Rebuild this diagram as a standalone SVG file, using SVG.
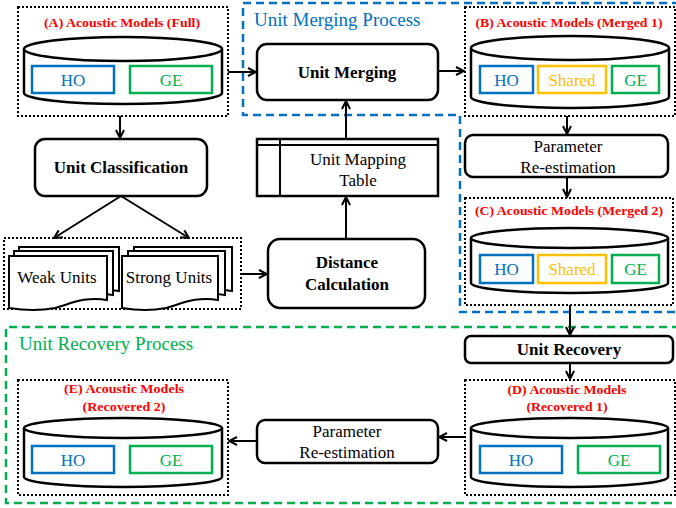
<svg xmlns="http://www.w3.org/2000/svg" width="676" height="508" viewBox="0 0 676 508" font-family="'Liberation Serif','Times New Roman',serif">
<defs>
<marker id="ah" viewBox="0 0 10 10" refX="9" refY="5" markerWidth="10" markerHeight="10" markerUnits="userSpaceOnUse" orient="auto">
<path d="M1,1 L9,5 L1,9" fill="none" stroke="#000" stroke-width="2"/>
</marker>
<style>
text{font-family:"Liberation Serif","Times New Roman",serif;}
.dot{fill:none;stroke:#000;stroke-width:2;stroke-dasharray:2 2;}
.blue{fill:none;stroke:#0070C0;stroke-width:2.5;stroke-dasharray:8 5;}
.green{fill:none;stroke:#00B050;stroke-width:2.5;stroke-dasharray:8 5;}
.cyl{fill:#fff;stroke:#000;stroke-width:2.5;}
.box{fill:#fff;stroke:#000;stroke-width:2.5;}
.ho{fill:#fff;stroke:#0070C0;stroke-width:2.5;}
.ge{fill:#fff;stroke:#00B050;stroke-width:2.5;}
.sh{fill:#fff;stroke:#FFC000;stroke-width:2.5;}
.tho{fill:#0070C0;font-size:17px;text-anchor:middle;}
.tge{fill:#00B050;font-size:17px;text-anchor:middle;}
.tsh{fill:#FFC000;font-size:17px;text-anchor:middle;}
.red{fill:#FF0000;font-size:13px;font-weight:bold;text-anchor:middle;}
.bold{fill:#000;font-size:17px;font-weight:bold;text-anchor:middle;}
.reg{fill:#000;font-size:17px;text-anchor:middle;}
.line{fill:none;stroke:#000;stroke-width:2;}
.doc{fill:#fff;stroke:#000;stroke-width:2;}
</style>
</defs>
<rect width="676" height="508" fill="#fff"/>

<g id="merging-process">
<path class="blue" d="M680,3 H243 V115 H460 V312 H680"/>
<text x="254" y="26" fill="#0070C0" style="font-size:19px">Unit Merging Process</text>
</g>
<g id="recovery-process">
<path class="green" d="M680,327 H6 V503 H680"/>
<text x="19" y="350" fill="#00B050" style="font-size:19px">Unit Recovery Process</text>
</g>

<g id="modelA">
<rect class="dot" x="18" y="7" width="210" height="109"/>
<text class="red" x="122" y="27" textLength="156" lengthAdjust="spacingAndGlyphs">(A) Acoustic Models (Full)</text>
<path class="cyl" d="M24,49 V93 A99,11 0 0 0 222,93 V49"/>
<ellipse class="cyl" cx="123" cy="49" rx="99" ry="12"/>
<rect class="ho" x="32" y="66" width="82" height="27"/>
<text class="tho" x="73" y="86">HO</text>
<rect class="ge" x="130" y="66" width="82" height="27"/>
<text class="tge" x="171" y="86">GE</text>
</g>

<g id="unit-merging">
<rect class="box" x="257" y="44" width="181" height="56" rx="10"/>
<text class="bold" x="347" y="78">Unit Merging</text>
</g>

<g id="modelB">
<rect class="dot" x="465" y="7" width="210" height="109"/>
<text class="red" x="569" y="27" textLength="187" lengthAdjust="spacingAndGlyphs">(B) Acoustic Models (Merged 1)</text>
<path class="cyl" d="M471,48 V97 A99,11 0 0 0 669,97 V48"/>
<ellipse class="cyl" cx="570" cy="48" rx="99" ry="12"/>
<rect class="ho" x="480" y="66" width="53" height="27"/>
<text class="tho" x="506.5" y="86">HO</text>
<rect class="sh" x="538" y="66" width="68" height="27"/>
<text class="tsh" x="572" y="86">Shared</text>
<rect class="ge" x="612" y="66" width="47" height="27"/>
<text class="tge" x="635.5" y="86">GE</text>
</g>

<g id="unit-classification">
<rect class="box" x="35" y="139" width="172" height="57" rx="10"/>
<text class="bold" x="121" y="173">Unit Classification</text>
</g>

<g id="unit-mapping-table">
<rect class="box" x="257" y="139" width="181" height="57"/>
<line class="line" x1="257" y1="145" x2="438" y2="145"/>
<line class="line" x1="280" y1="139" x2="280" y2="196"/>
<text class="reg" x="358" y="165">Unit Mapping</text>
<text class="reg" x="358" y="186">Table</text>
</g>

<g id="param-reest-1">
<rect class="box" x="465" y="135" width="203" height="42" rx="8"/>
<text class="reg" x="568" y="152">Parameter</text>
<text class="reg" x="568" y="173">Re-estimation</text>
</g>

<g id="units">
<rect class="dot" x="4" y="238" width="237" height="71"/>
<path class="doc" d="M19,247 H119 V291 C97,287 82,295 67,299 C52,302 32,301 19,299 Z"/>
<path class="doc" d="M14,251 H113 V295 C91,291 76,299 61,303 C46,306 27,305 14,303 Z"/>
<path class="doc" d="M9,256 H107 V300 C85,296 70,304 55,308 C40,311 21,310 9,308 Z"/>
<text class="reg" x="57" y="283">Weak Units</text>
<path class="doc" d="M134,247 H232 V291 C210,287 195,295 180,299 C165,302 146,301 134,299 Z"/>
<path class="doc" d="M128,251 H225 V295 C203,291 188,299 173,303 C158,306 140,305 128,303 Z"/>
<path class="doc" d="M122,256 H218 V300 C196,296 181,304 166,308 C151,311 134,310 122,308 Z"/>
<text class="reg" x="169" y="283">Strong Units</text>
</g>

<g id="distance-calculation">
<rect class="box" x="268" y="239" width="157" height="69" rx="12"/>
<text class="bold" x="347" y="268">Distance</text>
<text class="bold" x="347" y="290">Calculation</text>
</g>

<g id="modelC">
<rect class="dot" x="465" y="198" width="208" height="107"/>
<text class="red" x="569" y="215" textLength="188" lengthAdjust="spacingAndGlyphs">(C) Acoustic Models (Merged 2)</text>
<path class="cyl" d="M471,238 V283 A98.5,10 0 0 0 668,283 V238"/>
<ellipse class="cyl" cx="569.5" cy="238" rx="98.5" ry="10"/>
<rect class="ho" x="480" y="255" width="53" height="28"/>
<text class="tho" x="506.5" y="275">HO</text>
<rect class="sh" x="538" y="255" width="68" height="28"/>
<text class="tsh" x="572" y="275">Shared</text>
<rect class="ge" x="612" y="255" width="47" height="28"/>
<text class="tge" x="635.5" y="275">GE</text>
</g>

<g id="unit-recovery">
<rect class="box" x="465" y="336" width="208" height="27" rx="6"/>
<text class="bold" x="569" y="355">Unit Recovery</text>
</g>

<g id="modelD">
<rect class="dot" x="465" y="380" width="210" height="115"/>
<text class="red" x="567" y="394" textLength="119" lengthAdjust="spacingAndGlyphs">(D) Acoustic Models</text>
<text class="red" x="567" y="411" textLength="81" lengthAdjust="spacingAndGlyphs">(Recovered 1)</text>
<path class="cyl" d="M471,428 V477 A98.5,10 0 0 0 668,477 V428"/>
<ellipse class="cyl" cx="569.5" cy="428" rx="98.5" ry="10"/>
<rect class="ho" x="480" y="446" width="82" height="27"/>
<text class="tho" x="521" y="466">HO</text>
<rect class="ge" x="578" y="446" width="82" height="27"/>
<text class="tge" x="619" y="466">GE</text>
</g>

<g id="param-reest-2">
<rect class="box" x="257" y="420" width="181" height="43" rx="8"/>
<text class="reg" x="347" y="437">Parameter</text>
<text class="reg" x="347" y="458">Re-estimation</text>
</g>

<g id="modelE">
<rect class="dot" x="18" y="380" width="210" height="115"/>
<text class="red" x="124" y="393" textLength="120" lengthAdjust="spacingAndGlyphs">(E) Acoustic Models</text>
<text class="red" x="124" y="411" textLength="83" lengthAdjust="spacingAndGlyphs">(Recovered 2)</text>
<path class="cyl" d="M24,428 V477 A99,10 0 0 0 222,477 V428"/>
<ellipse class="cyl" cx="123" cy="428" rx="99" ry="10"/>
<rect class="ho" x="32" y="446" width="82" height="27"/>
<text class="tho" x="73" y="466">HO</text>
<rect class="ge" x="130" y="446" width="82" height="27"/>
<text class="tge" x="171" y="466">GE</text>
</g>

<g id="connectors">
<line class="line" x1="228" y1="72" x2="256" y2="72" marker-end="url(#ah)"/>
<line class="line" x1="438" y1="71" x2="464" y2="71" marker-end="url(#ah)"/>
<line class="line" x1="120" y1="116" x2="120" y2="138" marker-end="url(#ah)"/>
<line class="line" x1="121" y1="196" x2="54" y2="238" marker-end="url(#ah)"/>
<line class="line" x1="121" y1="196" x2="189" y2="238" marker-end="url(#ah)"/>
<line class="line" x1="241" y1="274" x2="267" y2="274" marker-end="url(#ah)"/>
<line class="line" x1="346" y1="239" x2="346" y2="197" marker-end="url(#ah)"/>
<line class="line" x1="346" y1="139" x2="346" y2="101" marker-end="url(#ah)"/>
<line class="line" x1="567" y1="116" x2="567" y2="134" marker-end="url(#ah)"/>
<line class="line" x1="567" y1="177" x2="567" y2="197" marker-end="url(#ah)"/>
<line class="line" x1="570" y1="305" x2="570" y2="335" marker-end="url(#ah)"/>
<line class="line" x1="570" y1="363" x2="570" y2="379" marker-end="url(#ah)"/>
<line class="line" x1="465" y1="437" x2="439" y2="437" marker-end="url(#ah)"/>
<line class="line" x1="257" y1="441" x2="229" y2="441" marker-end="url(#ah)"/>
</g>
</svg>
